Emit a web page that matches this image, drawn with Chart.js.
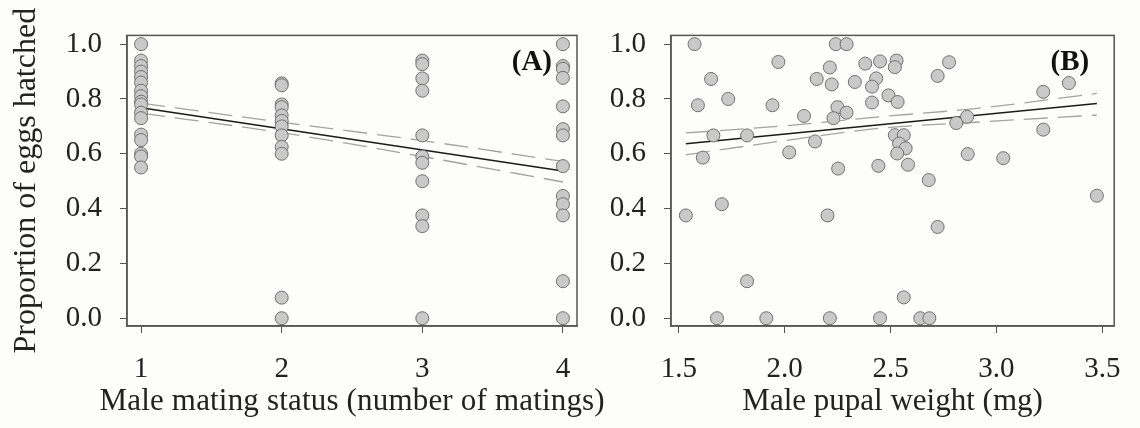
<!DOCTYPE html>
<html>

<head>
	<meta charset="utf-8">
	<title>Egg hatching</title>
	<script src="https://cdn.jsdelivr.net/npm/chart.js@4.4.1/dist/chart.umd.min.js"></script>
	<style>
		body {
			margin: 0;
			background: #fdfdfb;
		}

		.panels {
			display: flex;
			width: 1140px;
			height: 428px;
		}
	</style>
</head>

<body>
	<div class="panels">
		<canvas id="panelA" width="607" height="428"></canvas>
		<canvas id="panelB" width="533" height="428"></canvas>
	</div>
	<script>
		'use strict'

		// (A) proportion hatched, grouped by number of matings
		const matingStatus = [1, 2, 3, 4]
		const hatchOnce = [1.0, 0.94, 0.92, 0.90, 0.88, 0.86, 0.83, 0.81, 0.79, 0.78, 0.75, 0.73, 0.67, 0.65, 0.60, 0.59, 0.55]
		const hatchTwice = [0.857, 0.85, 0.78, 0.77, 0.74, 0.72, 0.70, 0.667, 0.625, 0.60, 0.075, 0.0]
		const hatchThrice = [0.94, 0.927, 0.875, 0.83, 0.667, 0.59, 0.567, 0.50, 0.375, 0.336, 0.0]
		const hatchFour = [1.0, 0.92, 0.91, 0.877, 0.773, 0.69, 0.667, 0.555, 0.446, 0.416, 0.375, 0.135, 0.0]

		const fitAX = [1, 4]
		const fitAY = [0.768, 0.537]
		const ciAX = [1, 2, 3, 4]
		const ciAUpper = [0.785, 0.715, 0.648, 0.572]
		const ciALower = [0.748, 0.677, 0.59, 0.497]

		// (B) proportion hatched against male pupal weight
		const pupalWeight = [1.574, 1.652, 1.59, 1.733, 1.663, 1.613, 1.822, 1.97, 1.942, 2.021,
			2.091, 2.143, 2.151, 2.213, 2.222, 2.241, 2.292, 2.249, 2.23, 2.292,
			2.252, 2.331, 2.38, 2.45, 2.528, 2.52, 2.432, 2.412, 2.412, 2.49,
			2.533, 2.776, 2.722, 2.861, 2.81, 3.221, 3.342, 3.221, 2.52, 2.562,
			2.54, 2.571, 2.531, 2.582, 2.442, 2.68, 2.864, 3.032, 3.474, 1.533,
			1.703, 1.822, 1.68, 1.913, 2.202, 2.213, 2.722, 2.562, 2.45, 2.64, 2.683]
		const hatchB = [1.0, 0.873, 0.777, 0.80, 0.667, 0.586, 0.667, 0.935, 0.777, 0.605,
			0.738, 0.645, 0.873, 0.915, 0.853, 1.0, 1.0, 0.77, 0.73, 0.75,
			0.546, 0.862, 0.929, 0.937, 0.94, 0.916, 0.875, 0.845, 0.787, 0.813,
			0.789, 0.934, 0.884, 0.735, 0.712, 0.826, 0.858, 0.688, 0.668, 0.668,
			0.637, 0.62, 0.601, 0.56, 0.556, 0.504, 0.599, 0.584, 0.447, 0.375,
			0.416, 0.135, 0.0, 0.0, 0.375, 0.0, 0.333, 0.076, 0.0, 0.0, 0.0]

		const fitBX = [1.533, 3.474]
		const fitBY = [0.637, 0.783]
		const ciBX = [1.533, 2.0, 2.45, 2.9, 3.474]
		const ciBUpper = [0.676, 0.702, 0.735, 0.765, 0.82]
		const ciBLower = [0.596, 0.648, 0.693, 0.715, 0.741]

		const yTicks = [0.0, 0.2, 0.4, 0.6, 0.8, 1.0]
		const xTicksA = [1, 2, 3, 4]
		const xTicksB = [1.5, 2.0, 2.5, 3.0, 3.5]
		const panelLabels = ['(A)', '(B)']

		const serif = '"Liberation Serif", "Times New Roman", serif'
		const ink = '#222'
		const axisColor = '#555'

		function pairs(xs, ys) {
			return xs.map((x, i) => ({ x, y: ys[i] }))
		}

		// box round the plot area, the bold panel letter and the x title
		// (the x title is drawn here so it can be spread to a set width)
		const framePlugin = {
			id: 'frame',
			afterDraw(chart, args, opts) {
				const { ctx, chartArea: a } = chart
				ctx.save()
				ctx.strokeStyle = axisColor
				ctx.lineWidth = 1.5
				ctx.strokeRect(a.left, a.top, a.right - a.left, a.bottom - a.top)

				ctx.fillStyle = '#111'
				ctx.font = 'bold 29px ' + serif
				ctx.textAlign = 'right'
				ctx.textBaseline = 'middle'
				ctx.fillText(opts.label, a.right - 25, a.top + 27)

				ctx.fillStyle = ink
				ctx.font = '31px ' + serif
				ctx.textAlign = 'left'
				const text = opts.xTitle
				let w = ctx.measureText(text).width
				if (opts.titleWidth && opts.titleWidth > w) {
					ctx.letterSpacing = ((opts.titleWidth - w) / (text.length - 1)).toFixed(2) + 'px'
					w = opts.titleWidth
				}
				ctx.fillText(text, (a.left + a.right) / 2 - w / 2, 402)
				ctx.restore()
			}
		}

		function makePanel(canvas, cfg) {
			const pointSet = {
				data: cfg.points,
				backgroundColor: '#c9c9c9',
				borderColor: '#707070',
				borderWidth: 1,
				pointRadius: 6.5,
				order: 0
			}
			const fitSet = {
				data: cfg.fit,
				showLine: true,
				borderColor: '#1a1a1a',
				borderWidth: 1.5,
				pointRadius: 0,
				order: 1
			}
			const ciSet = data => ({
				data,
				showLine: true,
				borderColor: '#a3a3a3',
				borderWidth: 1.3,
				borderDash: [24, 10],
				pointRadius: 0,
				cubicInterpolationMode: 'monotone',
				order: 2
			})

			return new Chart(canvas, {
				type: 'scatter',
				data: {
					datasets: [pointSet, fitSet, ciSet(cfg.upper), ciSet(cfg.lower)]
				},
				options: {
					responsive: false,
					animation: false,
					events: [],
					layout: {
						padding: { left: 0, right: cfg.padRight, top: 27, bottom: 0 }
					},
					plugins: {
						legend: { display: false },
						tooltip: { enabled: false },
						frame: { label: cfg.label, xTitle: cfg.xTitle, titleWidth: cfg.titleWidth }
					},
					scales: {
						x: {
							type: 'linear',
							min: cfg.xMin,
							max: cfg.xMax,
							afterFit: s => { s.height = 102 },
							afterBuildTicks: s => { s.ticks = cfg.xTicks.map(v => ({ value: v })) },
							ticks: {
								color: ink,
								padding: 19,
								font: { family: serif, size: 29 },
								callback: cfg.xFormat
							},
							grid: { drawOnChartArea: false, tickLength: 7, tickColor: axisColor },
							border: { color: axisColor, width: 1.5 }
						},
						y: {
							type: 'linear',
							min: -0.0284,
							max: 1.0319,
							afterFit: s => { s.width = cfg.yWidth },
							afterBuildTicks: s => { s.ticks = yTicks.map(v => ({ value: v })) },
							ticks: {
								color: ink,
								padding: 18,
								font: { family: serif, size: 29 },
								callback: v => v.toFixed(1)
							},
							grid: { drawOnChartArea: false, tickLength: 7, tickColor: axisColor },
							border: { color: axisColor, width: 1.5 },
							title: {
								display: cfg.yTitle !== '',
								text: cfg.yTitle,
								color: ink,
								padding: { top: 7, bottom: 0 },
								font: { family: serif, size: 32 }
							}
						}
					}
				},
				plugins: [framePlugin]
			})
		}

		const groupsA = [hatchOnce, hatchTwice, hatchThrice, hatchFour]
		const pointsA = []
		groupsA.forEach((group, i) => {
			group.forEach(y => pointsA.push({ x: matingStatus[i], y }))
		})

		makePanel(document.getElementById('panelA'), {
			points: pointsA,
			fit: pairs(fitAX, fitAY),
			upper: pairs(ciAX, ciAUpper),
			lower: pairs(ciAX, ciALower),
			xMin: 0.9,
			xMax: 4.1,
			xTicks: xTicksA,
			xFormat: v => String(v),
			xTitle: 'Male mating status (number of matings)',
			titleWidth: 505,
			yTitle: 'Proportion of eggs hatched',
			yWidth: 127,
			padRight: 30,
			label: panelLabels[0]
		})

		makePanel(document.getElementById('panelB'), {
			points: pairs(pupalWeight, hatchB),
			fit: pairs(fitBX, fitBY),
			upper: pairs(ciBX, ciBUpper),
			lower: pairs(ciBX, ciBLower),
			xMin: 1.4628,
			xMax: 3.5558,
			xTicks: xTicksB,
			xFormat: v => v.toFixed(1),
			xTitle: 'Male pupal weight (mg)',
			titleWidth: 0,
			yTitle: '',
			yWidth: 64,
			padRight: 19,
			label: panelLabels[1]
		})
	</script>
</body>

</html>
